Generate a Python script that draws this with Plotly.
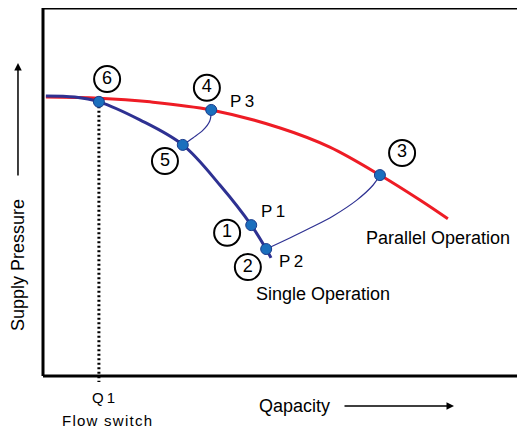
import plotly.graph_objects as go

# Pump curves (capacity 0-100, pressure 0-100, arbitrary units)
parallel_q = [0.6, 11.6, 22.2, 34.9, 49.2, 59.5, 69.9, 78.2, 84.0]
parallel_h = [75.8, 75.5, 74.5, 72.3, 67.4, 62.2, 54.6, 47.8, 42.7]

single_q = [0.6, 6.6, 11.6, 20.1, 29.0, 36.7, 43.2, 46.3, 47.3]
single_h = [76.1, 75.8, 74.5, 69.6, 62.8, 51.9, 41.0, 34.5, 32.1]

# transition paths between operating points
path54_q = [29.0, 31.1, 33.2, 34.6, 34.9]
path54_h = [62.8, 64.7, 66.8, 69.3, 72.3]
path23_q = [46.3, 51.2, 55.4, 60.2, 65.1, 68.5, 69.9]
path23_h = [34.5, 37.5, 40.2, 43.5, 47.8, 51.9, 54.6]

# operating points
point_q = [11.6, 34.9, 29.0, 43.2, 46.3, 69.9]
point_h = [74.5, 72.3, 62.8, 41.0, 34.5, 54.6]

# circled numbers
num_labels = ["6", "4", "5", "1", "2", "3"]
num_q = [13.3, 34.0, 25.3, 38.2, 42.5, 74.5]
num_h = [80.7, 78.3, 58.4, 38.9, 29.6, 60.6]

# P labels
p_labels = ["P\u20093", "P\u20091", "P\u20092"]
p_q = [41.3, 47.7, 51.4]
p_h = [74.5, 44.6, 31.2]

q1_value = 11.6
q1_top = 74.5
q1_bottom = -1.6

FONT = "Liberation Sans, Arial, sans-serif"
RED = "#ee1c25"
NAVY = "#2e3192"
DOT = "#1b6fbd"
HS = "\u200a"

fig = go.Figure()

fig.add_trace(go.Scatter(x=parallel_q, y=parallel_h, mode="lines",
                         line=dict(color=RED, width=3, shape="spline")))
fig.add_trace(go.Scatter(x=single_q, y=single_h, mode="lines",
                         line=dict(color=NAVY, width=3, shape="spline")))
fig.add_trace(go.Scatter(x=path54_q, y=path54_h, mode="lines",
                         line=dict(color=NAVY, width=1.2, shape="spline")))
fig.add_trace(go.Scatter(x=path23_q, y=path23_h, mode="lines",
                         line=dict(color=NAVY, width=1.2, shape="spline")))
fig.add_trace(go.Scatter(x=[q1_value, q1_value], y=[q1_top, q1_bottom], mode="lines",
                         line=dict(color="black", width=3, dash="2px,2.5px")))
fig.add_trace(go.Scatter(x=point_q, y=point_h, mode="markers",
                         marker=dict(size=11, color=DOT, line=dict(color="#1a3c8c", width=1))))
fig.add_trace(go.Scatter(x=num_q, y=num_h, mode="markers+text",
                         text=num_labels, textposition="middle center",
                         textfont=dict(family=FONT, size=18, color="black"),
                         marker=dict(symbol="circle-open", size=26, color="black",
                                     line=dict(width=2, color="black")),
                         cliponaxis=False))

annotations = []
for t, x, y in zip(p_labels, p_q, p_h):
    annotations.append(dict(x=x, y=y, xref="x", yref="y", text=t, showarrow=False,
                            font=dict(family=FONT, size=17, color="black")))
annotations.append(dict(x=82.0, y=37.5, xref="x", yref="y", text="Parallel Operation",
                        showarrow=False, font=dict(family=FONT, size=18, color="black")))
annotations.append(dict(x=58.1, y=22.3, xref="x", yref="y", text="Single Operation",
                        showarrow=False, font=dict(family=FONT, size=18, color="black")))
# axis labels (paper coords relative to plot area)
annotations.append(dict(x=0.5228, y=-0.0366, xref="paper", yref="paper", text="Qapacity",
                        xanchor="center", yanchor="middle",
                        showarrow=False, font=dict(family=FONT, size=18, color="black")))
annotations.append(dict(x=0.8527, y=-0.0366, xref="paper", yref="paper", text="",
                        showarrow=True, ax=-111, ay=0, arrowhead=2, arrowsize=1,
                        arrowwidth=1.5, arrowcolor="black"))
annotations.append(dict(x=-0.0519, y=0.3325, xref="paper", yref="paper", text="Supply Pressure",
                        textangle=-90, showarrow=False, xanchor="center", yanchor="middle",
                        font=dict(family=FONT, size=18, color="black")))
annotations.append(dict(x=-0.0519, y=0.8613, xref="paper", yref="paper", text="",
                        showarrow=True, ax=0, ay=114, arrowhead=2, arrowsize=1,
                        arrowwidth=1.5, arrowcolor="black"))
annotations.append(dict(x=0.1245, y=-0.0131, xref="paper", yref="paper", text="Q\u20091",
                        showarrow=False, xanchor="center", yanchor="middle",
                        font=dict(family=FONT, size=15, color="black")))
annotations.append(dict(x=0.1328, y=-0.0733, xref="paper", yref="paper",
                        text=HS.join("Flow switch"),
                        showarrow=False, xanchor="center", yanchor="middle",
                        font=dict(family=FONT, size=15, color="black")))

base = (392 - 376) / 382
top = 1 + 2 / 382
shapes = [
    dict(type="line", xref="paper", yref="paper", x0=0, x1=1, y0=top, y1=top,
         line=dict(color="black", width=3)),
    dict(type="line", xref="paper", yref="paper", x0=0, x1=1, y0=base, y1=base,
         line=dict(color="black", width=3)),
    dict(type="line", xref="paper", yref="paper", x0=0, x1=0, y0=base, y1=top,
         line=dict(color="black", width=3)),
]

fig.update_layout(
    width=517, height=421,
    margin=dict(l=35, r=0, t=2, b=37),
    paper_bgcolor="white", plot_bgcolor="white",
    showlegend=False,
    xaxis=dict(range=[0, 100], visible=False),
    yaxis=dict(range=[-4.348, 99.457], visible=False),
    annotations=annotations,
    shapes=shapes,
)

fig.write_html("out.html")
